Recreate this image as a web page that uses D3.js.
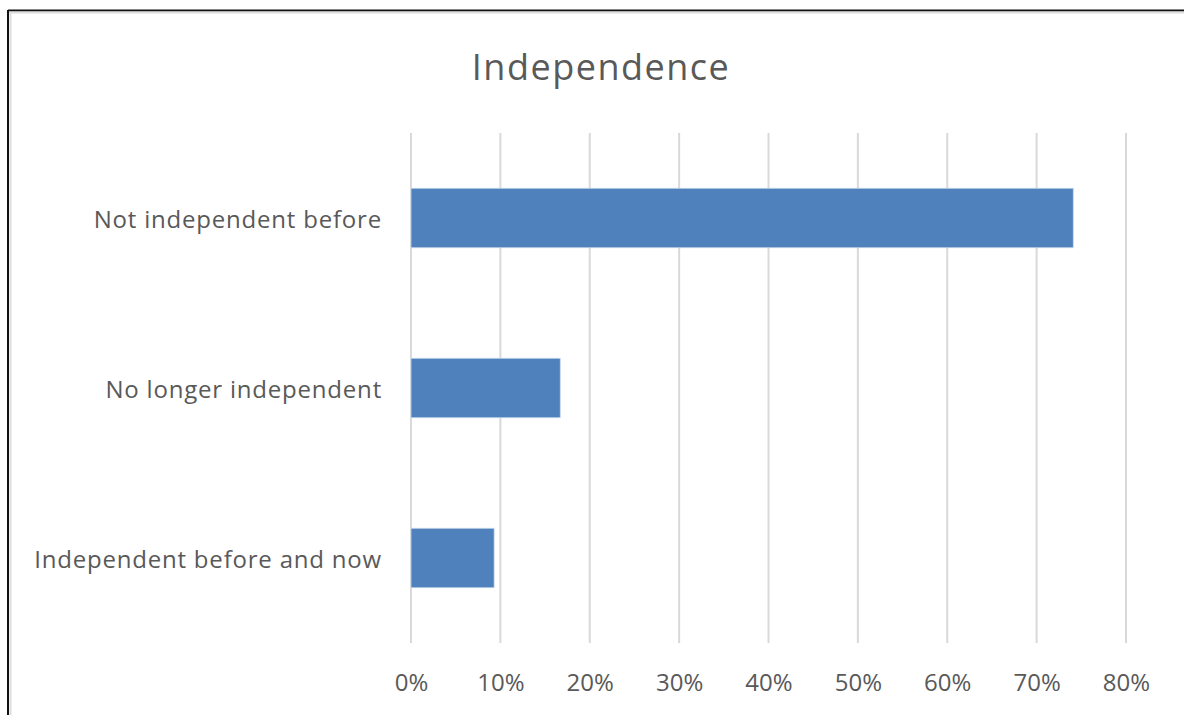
<!DOCTYPE html>
<html>
<head>
<meta charset="utf-8">
<script src="https://cdn.jsdelivr.net/npm/d3@7"></script>
<style>
  html, body { margin: 0; padding: 0; background: #fff; }
  svg { display: block; }
  text { font-family: "Open Sans", sans-serif; fill: #595959; }
</style>
</head>
<body>
<div id="chart"></div>
<script>
// Share of respondents by independence status
const categories = ["Not independent before", "No longer independent", "Independent before and now"];
const values = [0.741, 0.167, 0.093];
const tickValues = [0, 0.1, 0.2, 0.3, 0.4, 0.5, 0.6, 0.7, 0.8];
const title = "Independence";

const W = 1184, H = 715;
const plot = { left: 411, right: 1126, top: 133, bottom: 643 };
const FONT = "'Open Sans', sans-serif";

const svg = d3.select("#chart").append("svg")
  .attr("width", W).attr("height", H);

// frame
svg.append("line").attr("x1", 8).attr("x2", W).attr("y1", 10.5).attr("y2", 10.5)
  .attr("stroke", "#111").attr("stroke-width", 2);
svg.append("line").attr("x1", 8).attr("x2", 8).attr("y1", 10).attr("y2", H)
  .attr("stroke", "#111").attr("stroke-width", 2);
svg.append("line").attr("x1", 9).attr("x2", W).attr("y1", 12.5).attr("y2", 12.5)
  .attr("stroke", "#ddd").attr("stroke-width", 2);
svg.append("line").attr("x1", 10.5).attr("x2", 10.5).attr("y1", 12).attr("y2", H)
  .attr("stroke", "#ddd").attr("stroke-width", 2);

const x = d3.scaleLinear().domain([0, 0.8]).range([plot.left, plot.right]);
const y = d3.scaleBand().domain(categories).range([plot.top, plot.bottom]).paddingInner(0.65).paddingOuter(0.325);

// gridlines
svg.append("g").selectAll("line").data(tickValues).join("line")
  .attr("x1", d => x(d)).attr("x2", d => x(d))
  .attr("y1", plot.top).attr("y2", plot.bottom)
  .attr("stroke", "#d9d9d9").attr("stroke-width", 2);

// bars
svg.append("g").selectAll("rect").data(categories).join("rect")
  .attr("x", x(0)).attr("y", d => y(d))
  .attr("width", (d, i) => x(values[i]) - x(0))
  .attr("height", y.bandwidth())
  .attr("fill", "#4f81bd")
  .attr("stroke", "#c9d8ec").attr("stroke-width", 0.8);

// category labels
const yAxis = d3.axisLeft(y).tickSize(0).tickPadding(29);
const gy = svg.append("g").attr("transform", `translate(${plot.left},0)`).call(yAxis);
gy.select(".domain").remove();
gy.selectAll("text").attr("font-size", 24).attr("fill", "#595959")
  .attr("letter-spacing", 0.8)
  .style("font-family", FONT).attr("dy", "0.4em");

// value axis labels
const xAxis = d3.axisBottom(x).tickValues(tickValues).tickFormat(d3.format(".0%")).tickSize(0).tickPadding(31);
const gx = svg.append("g").attr("transform", `translate(0,${plot.bottom})`).call(xAxis);
gx.select(".domain").remove();
gx.selectAll("text").attr("font-size", 24).attr("fill", "#595959")
  .style("font-family", FONT);

// title
svg.append("text").attr("x", 601).attr("y", 80)
  .attr("text-anchor", "middle").attr("font-size", 36)
  .attr("letter-spacing", 1.5)
  .style("font-family", FONT)
  .text(title);
</script>
</body>
</html>
